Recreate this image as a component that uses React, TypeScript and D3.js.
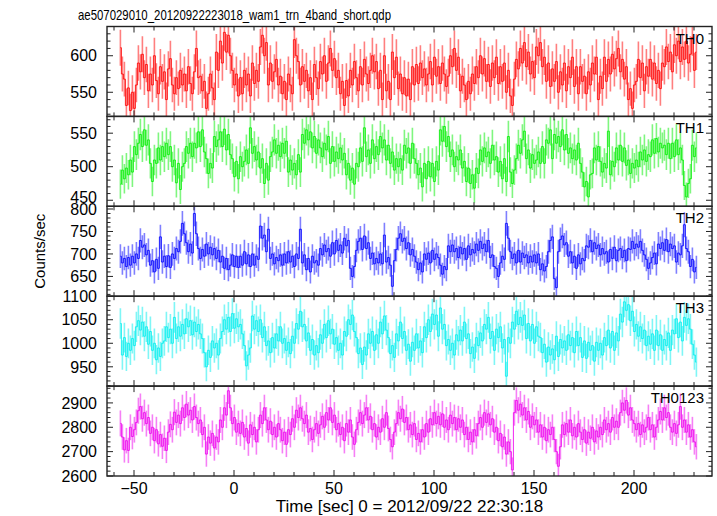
import React from 'react';
import * as d3 from 'd3';

// ---- data: 1-s bins, first bin centre at T_START, counts/sec ----
const T_START = -56.8;
const BIN = 1;

const TH0 = [
  611, 575, 568, 532, 556, 525, 550, 528, 560, 590,
  578, 602, 570, 588, 552, 575, 560, 600, 566, 548,
  585, 565, 578, 540, 582, 596, 560, 548, 570, 555,
  580, 560, 575, 552, 585, 562, 548, 578, 610, 570,
  572, 552, 565, 528, 548, 575, 556, 540, 605, 580,
  620, 590, 632, 605, 628, 600, 580, 560, 575, 545,
  570, 548, 580, 560, 575, 545, 590, 562, 580, 565,
  612, 628, 600, 618, 560, 590, 565, 578, 595, 560,
  572, 548, 565, 540, 575, 560, 548, 622, 600, 592,
  560, 585, 565, 580, 552, 570, 540, 588, 570, 555,
  592, 575, 600, 565, 590, 610, 580, 596, 570, 580,
  548, 565, 532, 566, 545, 580, 560, 592, 570, 552,
  585, 560, 595, 575, 562, 580, 600, 578, 592, 555,
  580, 540, 600, 552, 565, 540, 605, 570, 598, 555,
  575, 548, 570, 545, 568, 540, 585, 560, 588, 562,
  590, 570, 582, 560, 575, 592, 560, 598, 572, 585,
  562, 590, 575, 558, 572, 600, 585, 610, 580, 598,
  552, 572, 560, 540, 565, 548, 575, 562, 585, 570,
  600, 575, 596, 565, 588, 558, 590, 570, 598, 562,
  585, 565, 590, 550, 580, 545, 532, 568, 595, 582,
  610, 590, 618, 585, 605, 575, 592, 570, 612, 600,
  618, 585, 598, 565, 590, 558, 582, 565, 592, 550,
  578, 560, 590, 552, 585, 570, 598, 558, 585, 548,
  585, 565, 572, 548, 578, 560, 590, 575, 598, 540,
  572, 555, 598, 565, 595, 575, 602, 582, 596, 610,
  578, 595, 568, 585, 540, 555, 528, 560, 565, 595,
  570, 590, 552, 585, 572, 595, 568, 590, 562, 580,
  555, 590, 585, 612, 592, 605, 578, 615, 600, 620,
  592, 612, 595, 620, 590, 602, 625, 580, 605,
];

const TH1 = [
  474, 495, 482, 498, 488, 510, 492, 530, 518, 535,
  548, 530, 555, 532, 540, 505, 478, 510, 505, 528,
  510, 530, 515, 535, 518, 530, 500, 510, 476, 505,
  466, 500, 505, 530, 520, 535, 515, 535, 528, 552,
  530, 555, 522, 512, 490, 505, 498, 545, 530, 540,
  552, 530, 556, 525, 548, 518, 512, 485, 508, 482,
  515, 500, 508, 525, 505, 558, 520, 530, 510, 522,
  498, 512, 475, 505, 480, 515, 522, 540, 520, 532,
  515, 535, 520, 538, 492, 510, 495, 505, 488, 518,
  492, 548, 535, 555, 540, 552, 528, 545, 520, 540,
  528, 515, 535, 525, 545, 505, 530, 508, 522, 512,
  528, 510, 520, 488, 505, 480, 498, 474, 505, 500,
  528, 508, 558, 515, 525, 505, 540, 512, 530, 518,
  545, 528, 540, 510, 532, 505, 522, 495, 512, 500,
  512, 495, 532, 520, 528, 505, 535, 512, 505, 488,
  498, 470, 505, 482, 508, 485, 505, 478, 508, 495,
  555, 538, 560, 530, 545, 515, 525, 500, 515, 510,
  525, 498, 508, 478, 498, 475, 488, 468, 498, 490,
  525, 508, 528, 515, 522, 505, 532, 510, 515, 492,
  508, 482, 512, 478, 545, 492, 475, 495, 512, 532,
  520, 540, 553, 512, 525, 498, 518, 505, 510, 522,
  505, 530, 505, 540, 535, 555, 512, 548, 535, 545,
  530, 555, 525, 548, 520, 528, 512, 525, 510, 535,
  505, 492, 470, 478, 455, 488, 490, 528, 510, 530,
  508, 492, 505, 498, 553, 488, 508, 500, 528, 510,
  532, 508, 528, 502, 510, 490, 505, 498, 510, 500,
  522, 510, 525, 508, 518, 515, 540, 520, 542, 522,
  535, 528, 532, 518, 535, 512, 535, 515, 540, 518,
  528, 510, 472, 455, 475, 482, 532, 515, 528,
];

const TH2 = [
  695, 680, 690, 672, 692, 675, 695, 680, 700, 690,
  730, 715, 720, 698, 708, 675, 685, 660, 688, 668,
  738, 682, 695, 672, 696, 670, 700, 690, 712, 705,
  728, 768, 745, 725, 705, 722, 702, 790, 745, 712,
  690, 710, 695, 722, 700, 715, 698, 712, 690, 708,
  682, 695, 668, 690, 665, 675, 698, 672, 695, 670,
  695, 675, 705, 678, 698, 672, 700, 675, 695, 688,
  762, 735, 742, 705, 755, 690, 700, 678, 692, 685,
  698, 675, 700, 680, 705, 682, 695, 672, 700, 690,
  755, 680, 698, 665, 690, 660, 695, 680, 685, 675,
  712, 698, 720, 705, 712, 695, 725, 700, 730, 708,
  720, 702, 735, 718, 730, 668, 650, 672, 708, 728,
  735, 710, 740, 712, 725, 690, 702, 678, 690, 680,
  700, 678, 742, 682, 692, 675, 628, 685, 710, 735,
  745, 728, 735, 712, 725, 698, 710, 695, 682, 665,
  680, 660, 700, 688, 702, 680, 708, 688, 700, 692,
  675, 655, 672, 665, 718, 705, 720, 705, 712, 692,
  715, 700, 712, 688, 718, 698, 710, 702, 722, 708,
  728, 712, 722, 705, 730, 692, 698, 672, 668, 650,
  680, 695, 688, 768, 735, 705, 690, 700, 680, 708,
  682, 702, 692, 698, 680, 695, 682, 698, 680, 700,
  665, 678, 662, 672, 705, 730, 738, 645, 625, 705,
  732, 740, 720, 725, 695, 705, 680, 695, 668, 698,
  678, 690, 685, 718, 715, 730, 705, 725, 712, 720,
  698, 712, 700, 705, 682, 710, 690, 715, 685, 708,
  712, 692, 708, 685, 712, 710, 728, 712, 722, 715,
  728, 708, 698, 688, 668, 680, 692, 702, 678, 722,
  712, 725, 708, 732, 705, 722, 712, 718, 682, 702,
  698, 718, 765, 712, 705, 672, 688, 660, 670,
];

const TH3 = [
  1042, 975, 1012, 972, 1000, 985, 1010, 995, 1035, 1048,
  1028, 1045, 1015, 1035, 998, 1025, 985, 1000, 965, 990,
  972, 1000, 1005, 1035, 1012, 1030, 1000, 1055, 1010, 1035,
  1015, 1040, 1020, 1052, 1035, 1048, 1018, 1045, 1025, 1040,
  1020, 1010, 980, 950, 985, 970, 1005, 990, 1000, 975,
  1010, 1025, 1050, 1030, 1055, 1025, 1063, 1032, 1052, 1035,
  1040, 1020, 995, 952, 975, 990, 1058, 1030, 1048, 1025,
  1050, 1012, 1035, 995, 1005, 980, 1012, 990, 1020, 1005,
  1035, 1000, 1010, 985, 1002, 978, 1015, 1000, 1042, 1030,
  1068, 1035, 1040, 1005, 1022, 985, 1008, 975, 995, 980,
  1018, 1000, 1040, 1012, 1048, 1020, 1030, 998, 1012, 985,
  1000, 975, 1025, 1015, 1050, 1040, 1060, 1025, 1012, 978,
  990, 955, 992, 975, 1020, 1000, 1025, 985, 1018, 1000,
  1045, 1020, 1058, 1028, 1012, 978, 995, 970, 1020, 1005,
  1045, 1010, 1025, 985, 998, 962, 1002, 985, 1020, 990,
  1005, 980, 1035, 1012, 1050, 1025, 1062, 1040, 1060, 1015,
  1075, 1030, 1040, 995, 1008, 985, 1000, 975, 1018, 1005,
  1028, 1005, 1045, 1010, 1020, 978, 992, 968, 1012, 995,
  1022, 1005, 1040, 1030, 1055, 1010, 1025, 985, 1030, 1012,
  1035, 990, 1008, 930, 1012, 1000, 1045, 1030, 1068, 1040,
  1055, 1038, 1060, 1010, 1042, 1005, 1040, 1000, 1035, 1015,
  1012, 980, 998, 960, 992, 975, 988, 965, 1015, 972,
  1008, 990, 1005, 985, 1018, 995, 1012, 980, 1025, 995,
  1012, 970, 1005, 968, 1002, 985, 995, 962, 1002, 985,
  1000, 975, 1012, 995, 1028, 990, 1025, 985, 1022, 1005,
  1062, 1045, 1088, 1070, 1082, 1048, 1068, 1025, 1040, 1015,
  1035, 1010, 1028, 995, 1015, 998, 1020, 985, 1028, 995,
  1018, 985, 1008, 995, 1022, 985, 1028, 1020, 1052, 1012,
  1045, 1005, 1055, 1038, 1052, 1030, 998, 975, 960,
];

const TH0123 = [
  2816, 2760, 2707, 2745, 2705, 2800, 2762, 2790, 2820, 2868,
  2885, 2835, 2860, 2815, 2840, 2775, 2800, 2745, 2790, 2732,
  2770, 2722, 2755, 2705, 2780, 2812, 2790, 2862, 2820, 2850,
  2815, 2880, 2840, 2895, 2850, 2870, 2830, 2885, 2840, 2815,
  2830, 2770, 2800, 2690, 2760, 2735, 2775, 2715, 2760, 2740,
  2830, 2800, 2880, 2850, 2950, 2880, 2815, 2840, 2780, 2815,
  2775, 2820, 2760, 2795, 2735, 2810, 2770, 2800, 2740, 2790,
  2850, 2815, 2880, 2830, 2790, 2825, 2770, 2800, 2760, 2815,
  2790, 2745, 2780, 2730, 2790, 2770, 2835, 2800, 2870, 2840,
  2880, 2835, 2815, 2850, 2780, 2795, 2750, 2790, 2815, 2775,
  2810, 2845, 2800, 2860, 2830, 2880, 2820, 2850, 2790, 2815,
  2770, 2800, 2745, 2815, 2780, 2830, 2760, 2730, 2790, 2820,
  2860, 2815, 2850, 2880, 2830, 2845, 2790, 2815, 2760, 2800,
  2780, 2835, 2800, 2860, 2795, 2750, 2720, 2780, 2815, 2860,
  2835, 2875, 2820, 2840, 2790, 2810, 2770, 2815, 2750, 2775,
  2740, 2790, 2760, 2815, 2780, 2835, 2810, 2860, 2815, 2845,
  2810, 2855, 2800, 2830, 2790, 2850, 2815, 2840, 2790, 2835,
  2800, 2830, 2770, 2800, 2750, 2780, 2740, 2790, 2765, 2815,
  2840, 2800, 2860, 2820, 2855, 2810, 2835, 2780, 2800, 2745,
  2775, 2720, 2760, 2690, 2740, 2700, 2625, 2860, 2910, 2870,
  2895, 2850, 2880, 2830, 2865, 2800, 2845, 2810, 2830, 2780,
  2810, 2760, 2800, 2745, 2790, 2770, 2800, 2750, 2700, 2640,
  2720, 2810, 2770, 2815, 2780, 2830, 2765, 2800, 2760, 2815,
  2780, 2750, 2790, 2735, 2780, 2755, 2800, 2740, 2785, 2760,
  2800, 2770, 2830, 2790, 2815, 2780, 2840, 2800, 2825, 2800,
  2860, 2900, 2870, 2910, 2850, 2880, 2830, 2815, 2790, 2815,
  2770, 2810, 2780, 2800, 2840, 2790, 2810, 2760, 2800, 2830,
  2865, 2830, 2880, 2840, 2860, 2800, 2780, 2815, 2775, 2810,
  2885, 2800, 2830, 2780, 2810, 2760, 2790, 2740, 2720,
];

const PANEL_NAMES = ['TH0', 'TH1', 'TH2', 'TH3', 'TH0123'];
const PANEL_DATA = [TH0, TH1, TH2, TH3, TH0123];
const Y_DOMAINS: [number, number][] = [[517, 640], [441, 575], [606, 806], [909, 1100], [2600, 2969]];
const Y_MAJOR = [[550, 600], [450, 500, 550], [650, 700, 750, 800], [950, 1000, 1050, 1100], [2600, 2700, 2800, 2900]];
const Y_MINOR_STEP = [10, 10, 10, 10, 20];
const COLORS = ['#ff0000', '#00ee00', '#0000ff', '#00eeee', '#ee00ee'];
const X_DOMAIN: [number, number] = [-63.5, 239];
const X_MAJOR = [-50, 0, 50, 100, 150, 200];

const TITLE = 'ae507029010_20120922223018_wam1_trn_4band_short.qdp';
const X_LABEL = 'Time [sec] 0 = 2012/09/22 22:30:18';
const Y_LABEL = 'Counts/sec';

// ---- layout ----
const W = 717, H = 516;
const LEFT = 107, RIGHT = 712;
const TOP = 26.5, PH = 89.9;
const FONT = '"Liberation Sans", Arial, Helvetica, sans-serif';

export default function App() {
  const x = d3.scaleLinear().domain(X_DOMAIN).range([LEFT, RIGHT]);
  const xMinor = d3.range(-60, 240, 10);

  return (
    <svg width={W} height={H} style={{ position: 'absolute', left: 0, top: 0, background: '#fff' }}
      fontFamily={FONT}>
      <defs>
        {PANEL_NAMES.map((n, i) => (
          <clipPath id={`clip${i}`} key={n}>
            <rect x={LEFT} y={TOP + i * PH} width={RIGHT - LEFT} height={PH} />
          </clipPath>
        ))}
      </defs>
      <text x={78} y={20} fontSize={15} textLength={313} lengthAdjust="spacingAndGlyphs" fill="#000">{TITLE}</text>
      {PANEL_NAMES.map((name, i) => {
        const y0 = TOP + i * PH, y1 = y0 + PH;
        const y = d3.scaleLinear().domain(Y_DOMAINS[i]).range([y1, y0]);
        const data = PANEL_DATA[i];
        const pts = data.map((v, k) => ({ t: T_START + k * BIN, v, e: Math.sqrt(v / BIN) }));
        const line = d3.line<{ t: number; v: number }>().x(d => x(d.t)).y(d => y(d.v)).curve(d3.curveStep);
        const [lo, hi] = Y_DOMAINS[i];
        const minor = d3.range(Math.ceil(lo / Y_MINOR_STEP[i]) * Y_MINOR_STEP[i], hi + 0.001, Y_MINOR_STEP[i]);
        const color = COLORS[i];
        return (
          <g key={name}>
            <g clipPath={`url(#clip${i})`}>
              {pts.map((p, k) => (
                <line key={k} x1={x(p.t)} x2={x(p.t)} y1={y(p.v - p.e)} y2={y(p.v + p.e)}
                  stroke={color} strokeOpacity={0.5} strokeWidth={1.6} />
              ))}
              <path d={line(pts) || ''} fill="none" stroke={color} strokeOpacity={0.85} strokeWidth={1} />
            </g>
            {xMinor.map(t => {
              const len = X_MAJOR.includes(t) ? 6 : 4;
              const xx = x(t);
              return (
                <g key={t} stroke="#222" strokeWidth={1}>
                  <line x1={xx} x2={xx} y1={y0} y2={y0 + len} />
                  <line x1={xx} x2={xx} y1={y1} y2={y1 - len} />
                </g>
              );
            })}
            {minor.map(v => {
              const len = Y_MAJOR[i].includes(v) ? 6 : 3.5;
              const yy = y(v);
              return (
                <g key={v} stroke="#222" strokeWidth={1}>
                  <line x1={LEFT} x2={LEFT + len} y1={yy} y2={yy} />
                  <line x1={RIGHT} x2={RIGHT - len} y1={yy} y2={yy} />
                </g>
              );
            })}
            {Y_MAJOR[i].map(v => (
              <text key={v} x={LEFT - 10} y={y(v) - (i === 1 && v === 450 ? 3 : 0)} dy="0.36em"
                textAnchor="end" fontSize={16} fill="#000">{v}</text>
            ))}
            <text x={RIGHT - 8} y={y0 + 17} textAnchor="end" fontSize={15} fill="#000">{name}</text>
            <rect x={LEFT} y={y0} width={RIGHT - LEFT} height={PH} fill="none" stroke="#222" strokeWidth={1.4} />
          </g>
        );
      })}
      {X_MAJOR.map(t => (
        <text key={t} x={x(t)} y={TOP + 5 * PH + 18} textAnchor="middle" fontSize={16} fill="#000">
          {t < 0 ? `\u2212${-t}` : t}
        </text>
      ))}
      <text x={(LEFT + RIGHT) / 2} y={512} textAnchor="middle" fontSize={17} fill="#000">{X_LABEL}</text>
      <text transform={`translate(45, ${TOP + 2.5 * PH}) rotate(-90)`} textAnchor="middle" fontSize={15} fill="#000">{Y_LABEL}</text>
    </svg>
  );
}
